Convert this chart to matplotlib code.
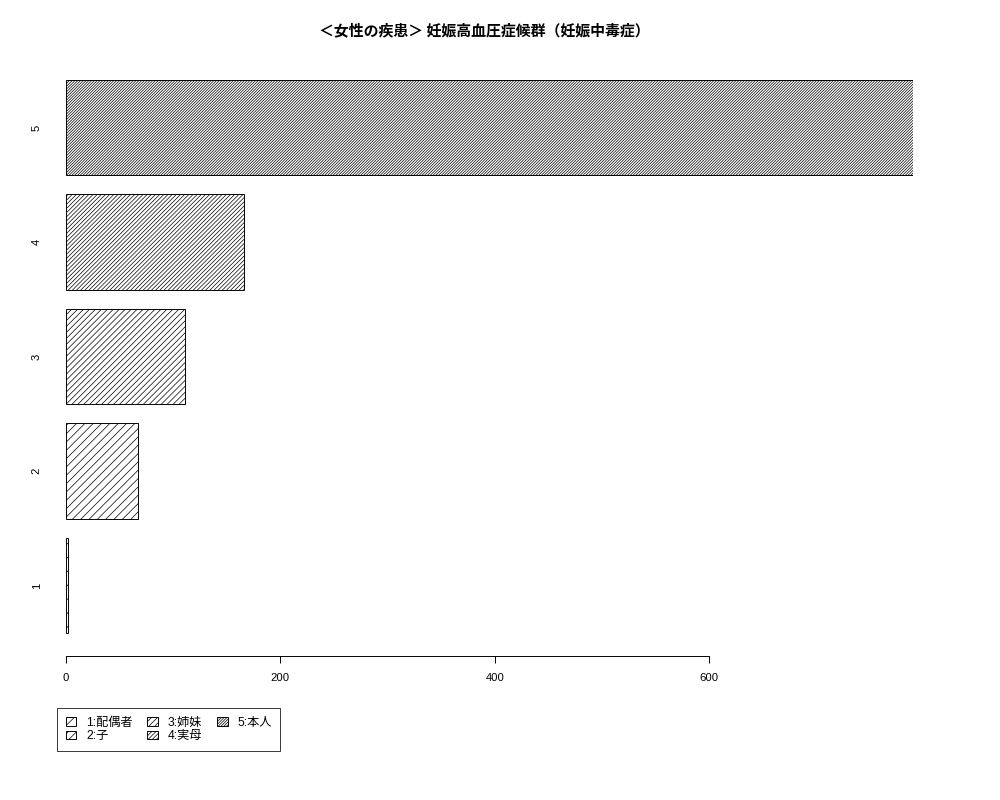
import matplotlib
matplotlib.use("Agg")
import matplotlib.pyplot as plt

plt.rcParams['font.family'] = ['Liberation Sans', 'Noto Sans CJK JP', 'DejaVu Sans']
plt.rcParams['hatch.linewidth'] = 0.4
plt.rcParams['hatch.color'] = 'black'

# data
categories = ["1", "2", "3", "4", "5"]
values = [2, 67, 111, 166, 790]
legend_labels = ["1:配偶者", "2:子", "3:姉妹", "4:実母", "5:本人"]
hatch_counts = [3, 5, 7, 10, 15]
title = "＜女性の疾患＞ 妊娠高血圧症候群（妊娠中毒症）"

fig = plt.figure(figsize=(8, 6.4), dpi=125)
ax = fig.add_axes([0.066, 1 - 656 / 800, 0.913 - 0.066, (656 - 60) / 800])

ypos = list(range(1, len(categories) + 1))
bars = ax.barh(ypos, values, height=1 / 1.2, color="white", edgecolor="black",
               linewidth=0.55)
for b, n in zip(bars, hatch_counts):
    b.set_hatch("/" * n)

ax.set_xlim(0, 790)
ax.set_ylim(1 - 70.5 / 114.5, 5 + 67.5 / 114.5)

for s in ["top", "right", "left"]:
    ax.spines[s].set_visible(False)
ax.spines["bottom"].set_bounds(0, 600)
ax.spines["bottom"].set_linewidth(0.55)
ax.set_xticks([0, 200, 400, 600])
ax.tick_params(axis="x", length=4, width=0.55, labelsize=6.5, pad=6)

ax.set_yticks(ypos)
ax.set_yticklabels(categories, rotation=90, va="center")
ax.tick_params(axis="y", length=0, labelsize=6.5, pad=14)

fig.text(0.484, 1 - 30 / 800, title, ha="center", va="center", fontsize=8.6,
         fontweight="bold", family=["Noto Sans CJK JP", "DejaVu Sans"])

leg = fig.legend(list(bars), legend_labels, ncol=3, loc="upper left",
                 bbox_to_anchor=(0.057, 1 - 708 / 800), borderaxespad=0,
                 fontsize=7, frameon=True, fancybox=False, handlelength=0.9,
                 handleheight=0.7, handletextpad=0.8, columnspacing=1.2,
                 labelspacing=0.15, borderpad=0.7)
leg.get_frame().set_edgecolor("black")
leg.get_frame().set_linewidth(0.55)

fig.savefig("out.png", dpi=125)
